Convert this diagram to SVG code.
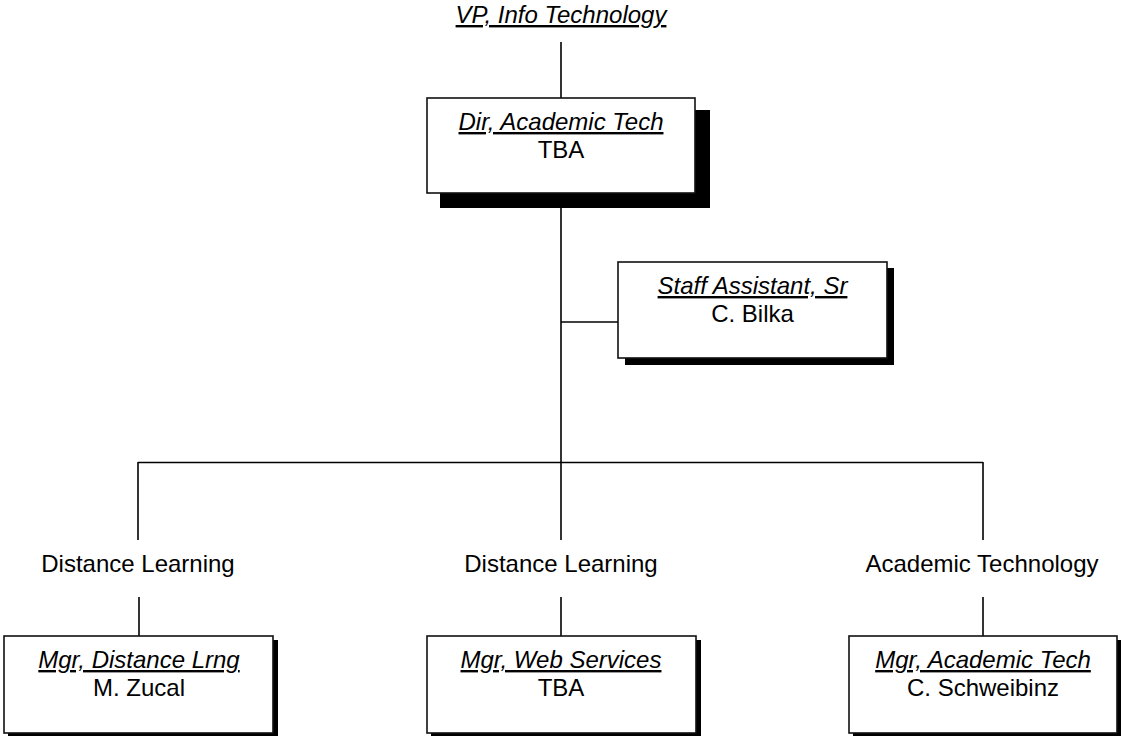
<svg xmlns="http://www.w3.org/2000/svg" width="1121" height="736" viewBox="0 0 1121 736">
<style>
text{font-family:"Liberation Sans",Arial,sans-serif;font-size:24px;fill:#000;text-anchor:middle}
.t{font-style:italic;text-decoration:underline}
.box{fill:#fff;stroke:#111;stroke-width:1.6}
.sh{fill:#000}
.ln{stroke:#000;stroke-width:1.6;fill:none}
</style>
<rect width="1121" height="736" fill="#fff"/>
<g id="connectors">
<line class="ln" x1="561" y1="42" x2="561" y2="98"/>
<line class="ln" x1="561" y1="193" x2="561" y2="540"/>
<line class="ln" x1="561" y1="322" x2="618" y2="322"/>
<line class="ln" x1="138" y1="462.5" x2="983" y2="462.5"/>
<line class="ln" x1="138" y1="462" x2="138" y2="540"/>
<line class="ln" x1="983" y1="462" x2="983" y2="540"/>
<line class="ln" x1="139" y1="597" x2="139" y2="636"/>
<line class="ln" x1="561" y1="597" x2="561" y2="636"/>
<line class="ln" x1="983" y1="597" x2="983" y2="636"/>
</g>
<g id="vp">
<text class="t" x="561" y="23">VP, Info Technology</text>
</g>
<g id="dir">
<rect class="sh" x="440" y="110" width="270" height="98"/>
<rect class="box" x="427" y="98" width="268" height="95"/>
<text class="t" x="561" y="130">Dir, Academic Tech</text>
<text x="561" y="158">TBA</text>
</g>
<g id="staff">
<rect class="sh" x="625" y="268" width="269" height="97"/>
<rect class="box" x="618" y="262" width="269" height="96"/>
<text class="t" x="752.5" y="294">Staff Assistant, Sr</text>
<text x="752.5" y="322">C. Bilka</text>
</g>
<g id="label1"><text x="138" y="572">Distance Learning</text></g>
<g id="label2"><text x="561" y="572">Distance Learning</text></g>
<g id="label3"><text x="982" y="572">Academic Technology</text></g>
<g id="mgr1">
<rect class="sh" x="8" y="640" width="270" height="97"/>
<rect class="box" x="4" y="636" width="269" height="97"/>
<text class="t" x="139" y="668">Mgr, Distance Lrng</text>
<text x="139" y="696">M. Zucal</text>
</g>
<g id="mgr2">
<rect class="sh" x="431" y="640" width="270" height="97"/>
<rect class="box" x="427" y="636" width="269" height="97"/>
<text class="t" x="561" y="668">Mgr, Web Services</text>
<text x="561" y="696">TBA</text>
</g>
<g id="mgr3">
<rect class="sh" x="853" y="640" width="269" height="97"/>
<rect class="box" x="849" y="636" width="268" height="97"/>
<text class="t" x="983" y="668">Mgr, Academic Tech</text>
<text x="983" y="696">C. Schweibinz</text>
</g>
</svg>
